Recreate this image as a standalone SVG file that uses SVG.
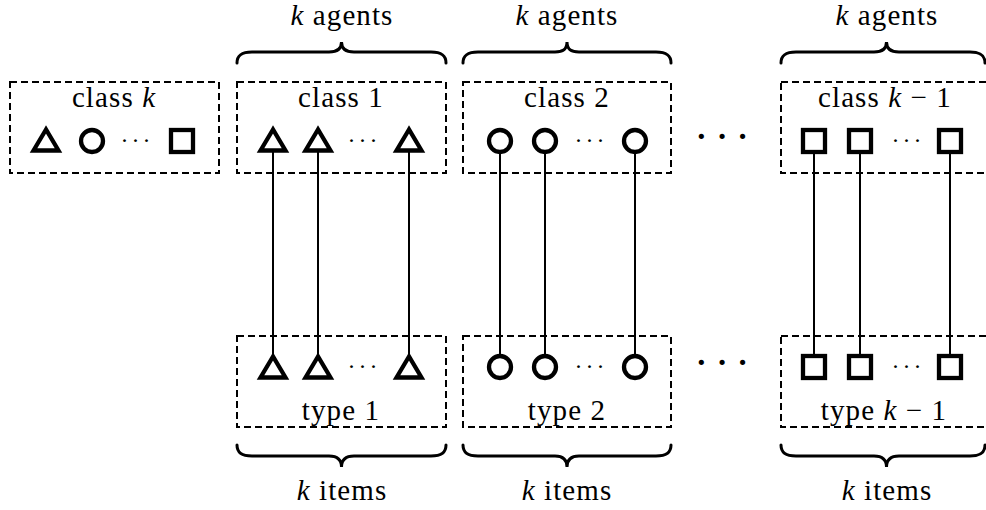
<svg xmlns="http://www.w3.org/2000/svg" width="986" height="510" viewBox="0 0 986 510">
<defs>
<style>
.box{fill:none;stroke:#000;stroke-width:2;stroke-dasharray:7 4}
.sh{fill:none;stroke:#000;stroke-width:4.3;stroke-linejoin:miter}
.ln{stroke:#000;stroke-width:2;fill:none}
.br{fill:none;stroke:#000;stroke-width:3;stroke-linecap:round}
text{font-family:'Liberation Serif','Times New Roman',serif;fill:#000;text-anchor:middle}
.lbl{font-size:29px;letter-spacing:1.1px}
.it{font-style:italic}
.sd{font-size:24px;letter-spacing:3px}
.bd{font-size:44px;letter-spacing:6px}
</style>
<polygon id="tri" points="0,-10.5 -12.5,10.5 12.5,10.5"/>
</defs>
<rect width="986" height="510" fill="#fff"/>

<g id="connectors">
<line class="ln" x1="273" y1="152" x2="273" y2="355"/>
<line class="ln" x1="318" y1="152" x2="318" y2="355"/>
<line class="ln" x1="409" y1="152" x2="409" y2="355"/>
<line class="ln" x1="500" y1="152" x2="500" y2="356"/>
<line class="ln" x1="545" y1="152" x2="545" y2="356"/>
<line class="ln" x1="635" y1="152" x2="635" y2="356"/>
<line class="ln" x1="814" y1="152" x2="814" y2="356"/>
<line class="ln" x1="860" y1="152" x2="860" y2="356"/>
<line class="ln" x1="950" y1="152" x2="950" y2="356"/>
</g>

<g id="class-k">
<rect class="box" x="10" y="82" width="209" height="91"/>
<text class="lbl" x="114" y="107">class <tspan class="it">k</tspan></text>
<use href="#tri" class="sh" x="46" y="140"/>
<circle class="sh" cx="92" cy="141" r="11"/>
<text class="sd" x="137" y="148">···</text>
<rect class="sh" x="171" y="130" width="22" height="22"/>
</g>

<g id="class-1">
<path class="br" d="M237 63 C237 55 242 52 252 52 L329 52 C336 52 341.5 50 341.5 42 C341.5 50 347 52 354 52 L431 52 C441 52 446 55 446 63"/>
<text class="lbl" x="342" y="25"><tspan class="it">k</tspan> agents</text>
<rect class="box" x="237" y="82" width="209" height="91"/>
<text class="lbl" x="341" y="107">class 1</text>
<use href="#tri" class="sh" x="273" y="140"/>
<use href="#tri" class="sh" x="318" y="140"/>
<text class="sd" x="364" y="148">···</text>
<use href="#tri" class="sh" x="409" y="140"/>
</g>

<g id="class-2">
<path class="br" d="M463 63 C463 55 468 52 478 52 L555 52 C562 52 567 50 567 42 C567 50 572 52 579 52 L656 52 C666 52 671 55 671 63"/>
<text class="lbl" x="567" y="25"><tspan class="it">k</tspan> agents</text>
<rect class="box" x="463" y="82" width="208" height="91"/>
<text class="lbl" x="567" y="107">class 2</text>
<circle class="sh" cx="500" cy="141" r="11"/>
<circle class="sh" cx="545" cy="141" r="11"/>
<text class="sd" x="591" y="148">···</text>
<circle class="sh" cx="635" cy="141" r="11"/>
</g>

<g id="dots-top">
<text class="bd" x="725" y="151">···</text>
</g>

<g id="class-k-1">
<path class="br" d="M781 63 C781 55 786 52 796 52 L874 52 C881 52 886.5 50 886.5 42 C886.5 50 892 52 899 52 L970 52 C980 52 985 55 985 63"/>
<text class="lbl" x="887" y="25"><tspan class="it">k</tspan> agents</text>
<rect class="box" x="781" y="82" width="210" height="91"/>
<text class="lbl" x="885" y="107">class <tspan class="it">k</tspan> − 1</text>
<rect class="sh" x="803" y="130" width="22" height="22"/>
<rect class="sh" x="849" y="130" width="22" height="22"/>
<text class="sd" x="908" y="148">···</text>
<rect class="sh" x="939" y="130" width="22" height="22"/>
</g>

<g id="type-1">
<rect class="box" x="237" y="336" width="209" height="91"/>
<use href="#tri" class="sh" x="273" y="367"/>
<use href="#tri" class="sh" x="318" y="367"/>
<text class="sd" x="364" y="374">···</text>
<use href="#tri" class="sh" x="409" y="367"/>
<text class="lbl" x="341" y="420">type 1</text>
<path class="br" d="M237 445 C237 453 242 456 252 456 L329 456 C336 456 341.5 459 341.5 467 C341.5 459 347 456 354 456 L431 456 C441 456 446 453 446 445"/>
<text class="lbl" x="342" y="500"><tspan class="it">k</tspan> items</text>
</g>

<g id="type-2">
<rect class="box" x="463" y="336" width="208" height="91"/>
<circle class="sh" cx="500" cy="367" r="11"/>
<circle class="sh" cx="545" cy="367" r="11"/>
<text class="sd" x="591" y="374">···</text>
<circle class="sh" cx="635" cy="367" r="11"/>
<text class="lbl" x="567" y="420">type 2</text>
<path class="br" d="M463 445 C463 453 468 456 478 456 L555 456 C562 456 567 459 567 467 C567 459 572 456 579 456 L656 456 C666 456 671 453 671 445"/>
<text class="lbl" x="567" y="500"><tspan class="it">k</tspan> items</text>
</g>

<g id="dots-bottom">
<text class="bd" x="725" y="377">···</text>
</g>

<g id="type-k-1">
<rect class="box" x="781" y="336" width="210" height="91"/>
<rect class="sh" x="803" y="356" width="22" height="22"/>
<rect class="sh" x="849" y="356" width="22" height="22"/>
<text class="sd" x="908" y="374">···</text>
<rect class="sh" x="939" y="356" width="22" height="22"/>
<text class="lbl" x="884" y="420">type <tspan class="it">k</tspan> − 1</text>
<path class="br" d="M781 445 C781 453 786 456 796 456 L874 456 C881 456 886.5 459 886.5 467 C886.5 459 892 456 899 456 L970 456 C980 456 985 453 985 445"/>
<text class="lbl" x="887" y="500"><tspan class="it">k</tspan> items</text>
</g>
</svg>
